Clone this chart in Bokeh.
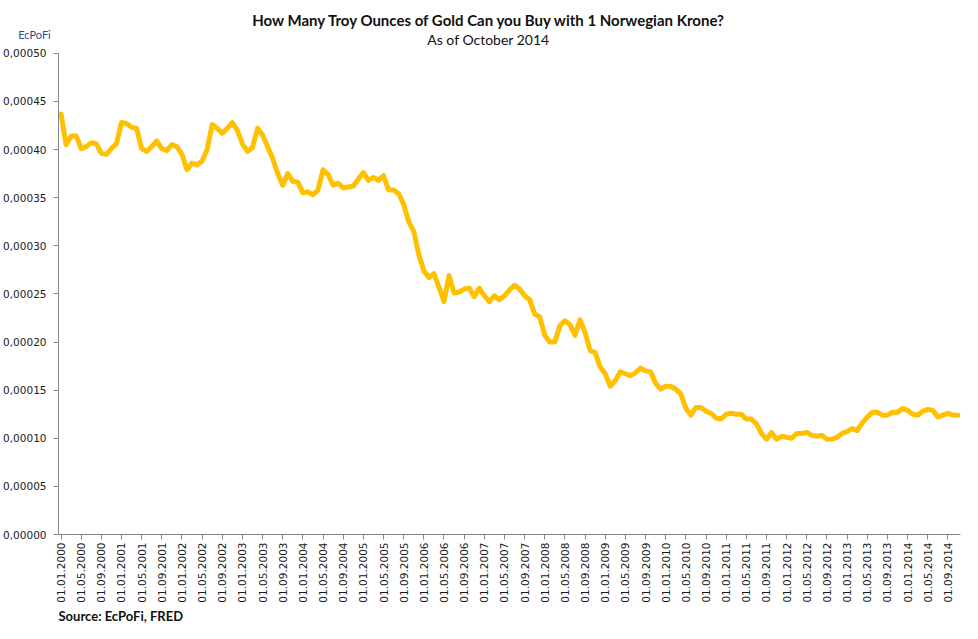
import math
from bokeh.plotting import figure
from bokeh.models import Range1d, FixedTicker, CustomJSTickFormatter, Label, Title
from bokeh.embed import file_html
from bokeh.resources import INLINE

# Monthly values, Jan 2000 .. Nov 2014 (troy ounces of gold per 1 NOK)
values = [
    0.000437, 0.000405, 0.000414, 0.000414, 0.000401, 0.000403, 0.000407, 0.000406, 0.000396, 0.000395,
    0.000401, 0.000406, 0.000428, 0.000427, 0.000423, 0.000422, 0.000401, 0.000398, 0.000403, 0.000409,
    0.000401, 0.000399, 0.000405, 0.000403, 0.000395, 0.000379, 0.000386, 0.000384, 0.000388, 0.000400,
    0.000426, 0.000422, 0.000417, 0.000422, 0.000428, 0.000420, 0.000406, 0.000398, 0.000402, 0.000422,
    0.000415, 0.000403, 0.000391, 0.000375, 0.000363, 0.000375, 0.000367, 0.000366, 0.000355, 0.000356,
    0.000353, 0.000358, 0.000379, 0.000374,
    0.000363, 0.000365, 0.000360, 0.000361, 0.000362, 0.000369, 0.000376, 0.000368, 0.000371, 0.000368,
    0.000373, 0.000358, 0.000358, 0.000354, 0.000343, 0.000325, 0.000315, 0.000291, 0.000274, 0.000267,
    0.000271, 0.000257, 0.000242, 0.000269, 0.000251, 0.000252, 0.000255, 0.000256, 0.000247, 0.000256,
    0.000248, 0.000242, 0.000248, 0.000244, 0.000248, 0.000254, 0.000259, 0.000255, 0.000248, 0.000244,
    0.000229, 0.000226, 0.000207, 0.000200, 0.000200, 0.000217, 0.000222, 0.000218, 0.000207, 0.000223,
    0.000210, 0.000191, 0.000189, 0.000174, 0.000167, 0.000154, 0.000160, 0.000169, 0.000167, 0.000165,
    0.000168, 0.000173, 0.000170, 0.000169, 0.000157, 0.000151, 0.000154, 0.000154, 0.000151, 0.000146,
    0.000131, 0.000124, 0.000132, 0.000132, 0.000128, 0.000126, 0.000121, 0.000120, 0.000125, 0.000126,
    0.000125, 0.000125, 0.000120, 0.000120, 0.000115, 0.000105, 0.000099, 0.000106, 0.000099, 0.000102,
    0.000101, 0.000100, 0.000105, 0.000105, 0.000106, 0.000103, 0.000102, 0.000103, 0.000099, 0.000099,
    0.000101, 0.000105, 0.000107, 0.000110, 0.000108, 0.000116, 0.000122, 0.000127, 0.000127, 0.000124,
    0.000124, 0.000127, 0.000127, 0.000131, 0.000129, 0.000125, 0.000124, 0.000128, 0.000130, 0.000129,
    0.000122, 0.000124, 0.000126, 0.000124, 0.000124,
]

tick_months = list(range(0, 177, 4))
tick_labels = ["01.%02d.%d" % (1 + m % 12, 2000 + m // 12) for m in tick_months]
y_ticks = [0.0, 0.00005, 0.0001, 0.00015, 0.0002, 0.00025, 0.0003, 0.00035, 0.0004, 0.00045, 0.0005]
y_max_tick = 0.0005

title_text = "How Many Troy Ounces of Gold Can you Buy with 1 Norwegian Krone?"
subtitle_text = "As of October 2014"
source_text = "Source: EcPoFi,  FRED"
logo_text = "EcPoFi"

# layout (pixels)
W, H = 962, 623
frame_top, frame_bottom = 14, 537
axis_top = 53  # where 0.0005 sits
y_top = y_max_tick * (frame_bottom - frame_top) / (frame_bottom - axis_top)

x = [i + 0.5 for i in range(len(values))]

p = figure(width=W, height=H, output_backend="svg", toolbar_location=None,
           x_range=Range1d(0, len(values)), y_range=Range1d(0, y_top),
           min_border_left=58, min_border_right=2, min_border_top=frame_top,
           min_border_bottom=H - frame_bottom)
p.background_fill_color = "white"
p.border_fill_color = "white"
p.outline_line_color = None
p.xgrid.visible = False
p.ygrid.visible = False

p.line(x, values, line_color="#FFC000", line_width=5, line_join="round", line_cap="round")

axis_col = "#868686"
font = "DejaVu Sans"

p.yaxis.bounds = (0, y_max_tick)
p.yaxis.ticker = FixedTicker(ticks=y_ticks)
p.yaxis.formatter = CustomJSTickFormatter(code="return tick.toFixed(5).replace('.', ',');")
p.yaxis.minor_tick_line_color = None
p.yaxis.major_tick_in = 0
p.yaxis.major_tick_out = 5
p.yaxis.major_label_standoff = 7
p.yaxis.axis_line_color = axis_col
p.yaxis.major_tick_line_color = axis_col
p.yaxis.major_label_text_font = font
p.yaxis.major_label_text_font_size = "10.5px"
p.yaxis.major_label_text_color = "#1a1a1a"

p.xaxis.ticker = FixedTicker(ticks=[m + 0.5 for m in tick_months])
p.xaxis.formatter = CustomJSTickFormatter(args=dict(labels=tick_labels),
                                          code="return labels[Math.round((tick - 0.5) / 4)];")
p.xaxis.minor_tick_line_color = None
p.xaxis.major_tick_in = 0
p.xaxis.major_tick_out = 5
p.xaxis.major_label_standoff = 3
p.xaxis.major_label_orientation = math.pi / 2
p.xaxis.axis_line_color = axis_col
p.xaxis.major_tick_line_color = axis_col
p.xaxis.major_label_text_font = font
p.xaxis.major_label_text_font_size = "10.5px"
p.xaxis.major_label_text_color = "#1a1a1a"

# title and subtitle inside the (extended) frame, screen units from frame bottom-left
p.add_layout(Label(x=431, y=frame_bottom - 22.5, x_units="screen", y_units="screen", text=title_text,
                   text_font="Lato", text_font_style="bold", text_font_size="15px",
                   text_align="center", text_baseline="alphabetic", text_color="#111111"))
p.add_layout(Label(x=430, y=frame_bottom - 41.5, x_units="screen", y_units="screen", text=subtitle_text,
                   text_font="Lato", text_font_size="14px",
                   text_align="center", text_baseline="alphabetic", text_color="#111111"))
p.add_layout(Title(text=source_text, align="left", text_font="Lato", text_font_style="bold",
                   text_font_size="13px", text_color="#111111", standoff=0), "below")
p.add_layout(Label(x=-24, y=frame_top - 34, x_units="screen", y_units="screen", text=logo_text,
                   text_font="Lato", text_font_size="11px",
                   text_align="center", text_baseline="middle", text_color="#2E4C9A"), "above")

open("out.html", "w").write(file_html(p, INLINE))
